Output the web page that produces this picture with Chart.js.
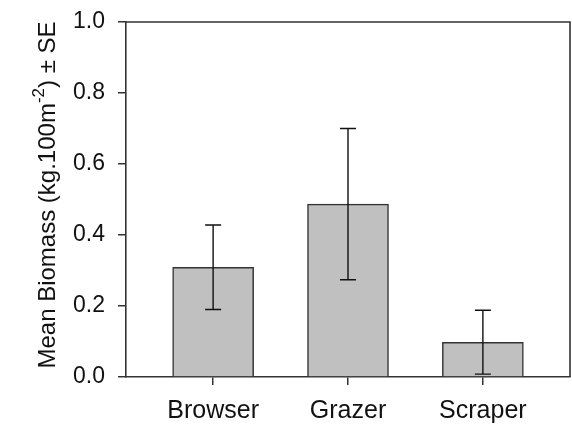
<!DOCTYPE html>
<html>
<head>
<meta charset="utf-8">
<script src="https://cdn.jsdelivr.net/npm/chart.js@4"></script>
<style>
  html, body { margin: 0; padding: 0; background: #fff; }
  #wrap { width: 572px; height: 428px; }
</style>
</head>
<body>
<div id="wrap"><canvas id="chart" width="572" height="428"></canvas></div>
<script>
const categories = ['Browser', 'Grazer', 'Scraper'];
const means = [0.309, 0.487, 0.098];
const se = [0.119, 0.213, 0.09];
const yTicks = [0, 0.2, 0.4, 0.6, 0.8, 1.0];

const FONT = "'Liberation Sans', Arial, sans-serif";
const AXIS = '#333';

// error bars, drawn on the library's scales
const errorBars = {
  id: 'errorBars',
  afterDatasetsDraw(chart) {
    const { ctx, scales: { x, y } } = chart;
    ctx.save();
    ctx.strokeStyle = '#111';
    ctx.lineWidth = 1.4;
    means.forEach((m, i) => {
      const px = x.getPixelForValue(i);
      const top = y.getPixelForValue(m + se[i]);
      const bot = y.getPixelForValue(m - se[i]);
      ctx.beginPath();
      ctx.moveTo(px, top); ctx.lineTo(px, bot);
      ctx.moveTo(px - 8, top); ctx.lineTo(px + 8, top);
      ctx.moveTo(px - 8, bot); ctx.lineTo(px + 8, bot);
      ctx.stroke();
    });
    ctx.restore();
  }
};

// top and right edges of the frame + rotated y title with superscript
const frame = {
  id: 'frame',
  afterDraw(chart) {
    const { ctx, chartArea: a } = chart;
    ctx.save();
    ctx.strokeStyle = AXIS;
    ctx.lineWidth = 1.6;
    ctx.beginPath();
    ctx.moveTo(a.left, a.top); ctx.lineTo(a.right, a.top); ctx.lineTo(a.right, a.bottom);
    ctx.stroke();

    const parts = [
      { t: 'Mean Biomass (kg.100m', size: 24, dy: 0 },
      { t: '-2', size: 17, dy: -11 },
      { t: ') \u00b1 SE', size: 24, dy: 0 }
    ];
    let total = 0;
    parts.forEach(p => { ctx.font = p.size + 'px ' + FONT; p.w = ctx.measureText(p.t).width; total += p.w; });
    ctx.translate(55, 195);
    ctx.rotate(-Math.PI / 2);
    ctx.fillStyle = '#111';
    ctx.textBaseline = 'alphabetic';
    let cx = -total / 2;
    parts.forEach(p => {
      ctx.font = p.size + 'px ' + FONT;
      ctx.fillText(p.t, cx, p.dy);
      cx += p.w;
    });
    ctx.restore();
  }
};

new Chart(document.getElementById('chart'), {
  type: 'bar',
  data: {
    datasets: [{
      data: categories.map((c, i) => ({ x: i, y: means[i] })),
      backgroundColor: '#c0c0c0',
      borderColor: AXIS,
      borderWidth: 1.5,
      barThickness: 81
    }]
  },
  options: {
    responsive: false,
    animation: false,
    layout: { padding: { top: 22, right: 2, left: 0, bottom: 0 } },
    plugins: { legend: { display: false }, tooltip: { enabled: false } },
    scales: {
      x: {
        type: 'linear',
        offset: false,
        min: -0.646,
        max: 2.646,
        afterFit(s) { s.height = 51; s.paddingLeft = 0; s.paddingRight = 0; },
        afterBuildTicks(s) { s.ticks = categories.map((c, i) => ({ value: i })); },
        grid: { offset: false, drawOnChartArea: false, tickLength: 8, color: AXIS, lineWidth: 1.5 },
        border: { color: AXIS, width: 1.6 },
        ticks: {
          padding: 11,
          color: '#111',
          font: { family: FONT, size: 25 },
          callback: v => categories[v] || ''
        }
      },
      y: {
        min: 0,
        max: 1,
        afterFit(s) { s.width = 126; s.paddingTop = 0; s.paddingBottom = 0; },
        afterBuildTicks(s) { s.ticks = yTicks.map(v => ({ value: v })); },
        grid: { drawOnChartArea: false, tickLength: 8, color: AXIS, lineWidth: 1.5 },
        border: { color: AXIS, width: 1.6 },
        ticks: {
          padding: 13,
          color: '#111',
          font: { family: FONT, size: 23 },
          callback: v => v.toFixed(1)
        }
      }
    }
  },
  plugins: [errorBars, frame]
});
</script>
</body>
</html>
